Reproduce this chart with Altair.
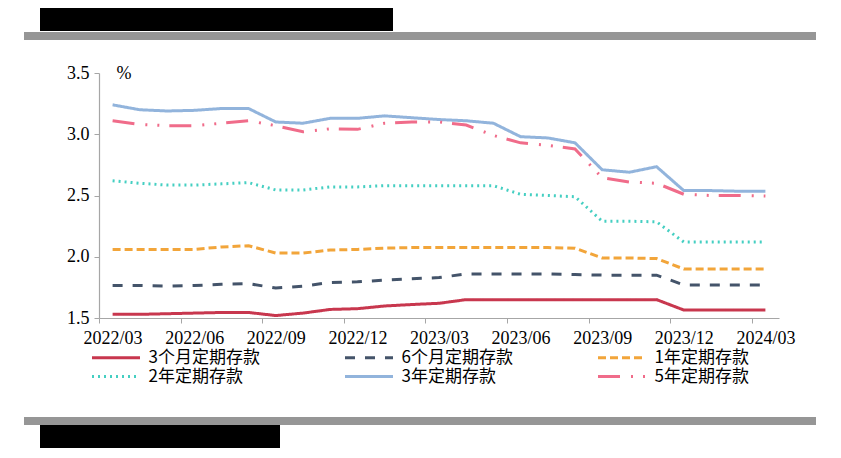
import altair as alt
import pandas as pd

months = ["2022/03", "2022/04", "2022/05", "2022/06", "2022/07", "2022/08", "2022/09",
          "2022/10", "2022/11", "2022/12", "2023/01", "2023/02", "2023/03", "2023/04",
          "2023/05", "2023/06", "2023/07", "2023/08", "2023/09", "2023/10", "2023/11",
          "2023/12", "2024/01", "2024/02", "2024/03"]

series_names = ["3个月定期存款", "6个月定期存款", "1年定期存款",
                "2年定期存款", "3年定期存款", "5年定期存款"]

rate_3m = [1.53, 1.53, 1.535, 1.54, 1.545, 1.545, 1.52, 1.54, 1.57, 1.576, 1.598, 1.61, 1.62,
           1.65, 1.65, 1.65, 1.65, 1.65, 1.648, 1.648, 1.65, 1.565, 1.565, 1.565, 1.565]
rate_6m = [1.765, 1.765, 1.76, 1.765, 1.775, 1.78, 1.745, 1.76, 1.79, 1.795, 1.81, 1.82, 1.83,
           1.86, 1.86, 1.86, 1.86, 1.855, 1.85, 1.85, 1.85, 1.77, 1.77, 1.77, 1.77]
rate_1y = [2.06, 2.06, 2.06, 2.06, 2.08, 2.09, 2.03, 2.03, 2.055, 2.06, 2.07, 2.075, 2.075,
           2.075, 2.075, 2.075, 2.075, 2.07, 1.99, 1.99, 1.985, 1.90, 1.90, 1.90, 1.90]
rate_2y = [2.62, 2.60, 2.585, 2.585, 2.595, 2.605, 2.545, 2.545, 2.57, 2.57, 2.58, 2.58, 2.58,
           2.58, 2.58, 2.51, 2.50, 2.49, 2.29, 2.29, 2.285, 2.12, 2.12, 2.12, 2.12]
rate_3y = [3.24, 3.20, 3.19, 3.195, 3.21, 3.21, 3.10, 3.09, 3.13, 3.13, 3.15, 3.135, 3.12,
           3.11, 3.09, 2.98, 2.97, 2.93, 2.71, 2.69, 2.735, 2.54, 2.54, 2.535, 2.535]
rate_5y = [3.11, 3.08, 3.07, 3.07, 3.09, 3.11, 3.07, 3.02, 3.045, 3.04, 3.09, 3.10, 3.10,
           3.075, 2.99, 2.93, 2.91, 2.88, 2.645, 2.61, 2.60, 2.51, 2.50, 2.50, 2.495]

tick_labels = ["2022/03", "2022/06", "2022/09", "2022/12", "2023/03",
               "2023/06", "2023/09", "2023/12", "2024/03"]
y_ticks = [1.5, 2.0, 2.5, 3.0, 3.5]

colors = ["#C8374E", "#44546A", "#F2A53A", "#45CFC2", "#92B4DC", "#F06C8A"]
dashes = [[1, 0], [10, 10], [8, 4], [2, 4], [1, 0], [22, 11, 2, 10, 2, 10]]

all_series = [rate_3m, rate_6m, rate_1y, rate_2y, rate_3y, rate_5y]
rows = []
for name, vals in zip(series_names, all_series):
    for i, (m, v) in enumerate(zip(months, vals)):
        rows.append({"idx": i, "month": m, "series": name, "rate": v})
df = pd.DataFrame(rows)

W, H = 680, 245
SERIF = "Liberation Serif, Times New Roman, serif"

label_arr = "[" + ",".join("'" + t + "'" for t in tick_labels) + "]"
x_vals = [3 * i - 0.5 for i in range(len(tick_labels))]

legend = alt.Legend(
    orient="none", legendX=8.5, legendY=276, columns=3, columnPadding=78,
    direction="horizontal",
    rowPadding=1, symbolType="M-4.8,0L4.8,0", symbolSize=100, symbolStrokeWidth=3,
    labelFont="Noto Sans CJK SC", labelFontSize=17, labelOffset=24, labelColor="black",
    title=None, padding=0, labelLimit=300,
)

lines = alt.Chart(df).mark_line(strokeWidth=3, strokeCap="butt").encode(
    x=alt.X("idx:Q", title="",
            scale=alt.Scale(domain=[-0.5, len(months) - 0.5], nice=False, zero=False),
            axis=alt.Axis(values=x_vals, labelExpr=label_arr + "[round((datum.value + 0.5) / 3)]",
                          labelOffset=13.6, labelFlush=False, labelOverlap=False,
                          tickSize=5, labelPadding=6, grid=False)),
    y=alt.Y("rate:Q", title="",
            scale=alt.Scale(domain=[1.5, 3.5], nice=False, zero=False),
            axis=alt.Axis(values=y_ticks, format=".1f", tickSize=5, labelPadding=5, grid=False)),
    color=alt.Color("series:N", scale=alt.Scale(domain=series_names, range=colors), legend=legend),
    strokeDash=alt.StrokeDash("series:N", scale=alt.Scale(domain=series_names, range=dashes), legend=legend),
    order="idx:Q",
)

unit = alt.Chart(pd.DataFrame({"t": ["%"]}))
pct = unit.mark_text(font=SERIF, fontSize=18, align="center", baseline="middle",
                     color="black").encode(text="t:N", x=alt.value(25), y=alt.value(1))

def block(x1, x2, y1, y2, color):
    return unit.mark_rect(color=color).encode(
        x=alt.value(x1), x2=alt.value(x2), y=alt.value(y1), y2=alt.value(y2))

deco = [
    block(-59, 294, -65, -42, "black"),
    block(-75, 717, -41, -33, "#969696"),
    block(-75, 717, 344, 352, "#969696"),
    block(-59, 181, 352, 375, "black"),
]

chart = alt.layer(lines, pct, *deco).properties(
    width=W, height=H,
    autosize=alt.AutoSizeParams(type="none"),
    padding={"left": 91, "top": 65, "right": 42, "bottom": 135},
).configure_view(strokeWidth=0).configure_axis(
    labelFont=SERIF, labelFontSize=18, labelColor="black",
    domainColor="#A6A6A6", tickColor="#A6A6A6", domainWidth=1.2,
)

chart.save("out.html", embed_options={"renderer": "svg", "actions": False})
